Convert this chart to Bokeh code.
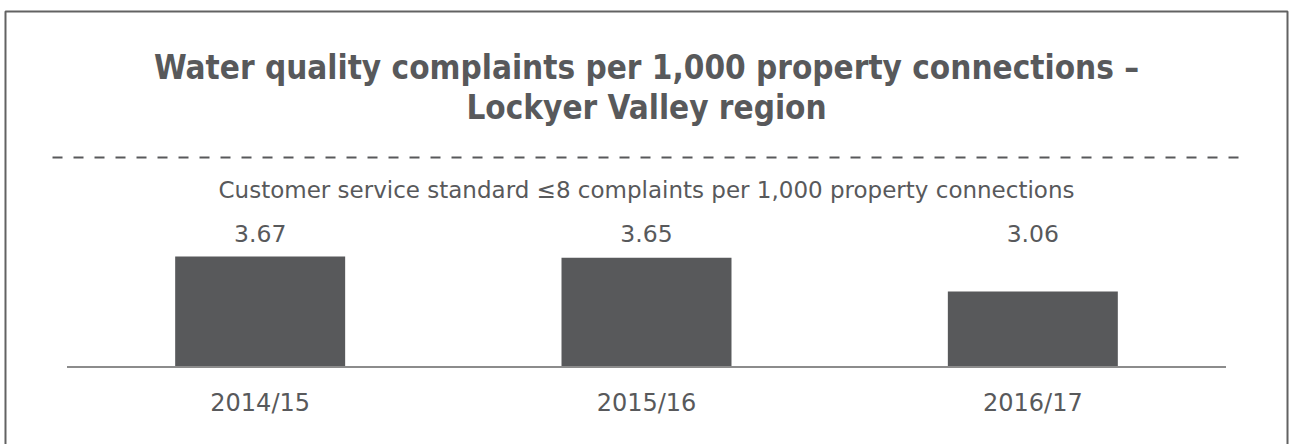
from bokeh.plotting import figure
from bokeh.models import Range1d, FactorRange, Label, BoxAnnotation, ColumnDataSource
from bokeh.core.properties import value
from bokeh.embed import file_html
from bokeh.resources import INLINE

# ---- data ----
years = ["2014/15", "2015/16", "2016/17"]
complaints = [3.67, 3.65, 3.06]
value_labels = ["3.67", "3.65", "3.06"]
title_lines = ["Water quality complaints per 1,000 property connections \u2013",
               "Lockyer Valley region"]
subtitle = "Customer service standard \u22648 complaints per 1,000 property connections"

# ---- layout constants ----
GREY = "#58595b"
BASE = 1.745            # value at the category baseline
Y_LO, Y_HI = 0.395, 8.130
PAD = 0.16695           # factor-range padding (absolute)
BOX = dict(left=-0.1592, right=3.1592, top=7.938, bottom=0.0)
DASH_X = (-0.0375, 3.0427)
DASH_Y = 5.395
TITLE_Y = [6.959, 6.260]
SUB_Y = 4.832
VAL_Y = 4.065
CAT_Y = 1.114
MID = 1.5

p = figure(x_range=FactorRange(factors=years, range_padding=PAD,
                               range_padding_units="absolute"),
           y_range=Range1d(Y_LO, Y_HI),
           frame_width=1288, frame_height=444,
           min_border_left=2, min_border_right=0,
           min_border_top=0, min_border_bottom=0,
           output_backend="svg", toolbar_location=None)

# outer frame
p.add_layout(BoxAnnotation(**BOX, fill_alpha=0, line_color="#626262",
                           line_alpha=1.0, line_width=2))

src = ColumnDataSource(dict(x=years, top=complaints, lab=value_labels,
                            ly=[VAL_Y] * len(years), cy=[CAT_Y] * len(years)))
p.vbar(x="x", top="top", bottom=BASE, width=0.44, source=src,
       fill_color=GREY, line_color=None)

# category baseline spanning the factor range
p.segment(x0=[0], y0=[BASE], x1=[len(years)], y1=[BASE],
          line_color="#8c8c8c", line_width=2)

p.text(x="x", y="ly", text="lab", source=src, text_align="center",
       text_baseline="alphabetic", text_font=value("DejaVu Sans"),
       text_font_size="23.5px", text_color=GREY)
p.text(x="x", y="cy", text="x", source=src, text_align="center",
       text_baseline="alphabetic", text_font=value("DejaVu Sans"),
       text_font_size="24px", text_color=GREY)

# titles
for txt, yy in zip(title_lines, TITLE_Y):
    p.add_layout(Label(x=MID, y=yy, text=txt, text_align="center",
                       text_baseline="alphabetic",
                       text_font="DejaVu Sans Condensed", text_font_style="bold",
                       text_font_size="33px", text_color=GREY))
p.add_layout(Label(x=MID, y=SUB_Y, text=subtitle, text_align="center",
                   text_baseline="alphabetic", text_font="DejaVu Sans",
                   text_font_size="23px", text_color=GREY))

# dashed separator
p.segment(x0=[DASH_X[0]], y0=[DASH_Y], x1=[DASH_X[1]], y1=[DASH_Y],
          line_color=GREY, line_width=2, line_dash="10 11")

p.xaxis.visible = False
p.yaxis.visible = False
p.xgrid.visible = False
p.ygrid.visible = False
p.outline_line_color = None

open("out.html", "w").write(file_html(p, INLINE))
